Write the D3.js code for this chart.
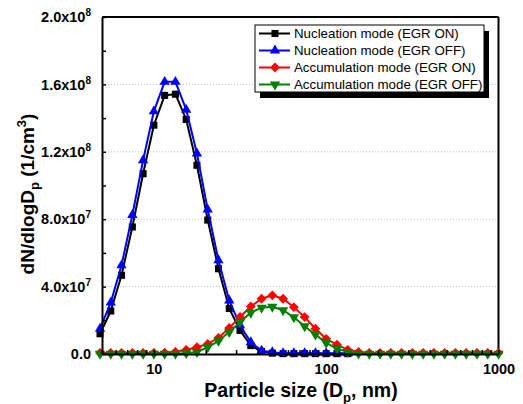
<!DOCTYPE html>
<html>
<head>
<meta charset="utf-8">
<script src="https://cdn.jsdelivr.net/npm/d3@7"></script>
<style>
  body { margin: 0; background: #fff; }
  text { font-family: Arial, "Liberation Sans", sans-serif; }
</style>
</head>
<body>
<div id="chart"></div>
<script>
// particle diameters (nm), SMPS bins
const sizes = [4.87, 5.62, 6.49, 7.50, 8.66, 10.0, 11.55, 13.34, 15.40, 17.78,
  20.54, 23.71, 27.38, 31.62, 36.52, 42.17, 48.70, 56.23, 64.94, 74.99,
  86.60, 100.0, 115.5, 133.4, 154.0, 177.8, 205.4, 237.1, 273.8, 316.2,
  365.2, 421.7, 487.0, 562.3, 649.4, 749.9, 866.0, 1000];

// dN/dlogDp in 1e6 /cm3
const nucOn = [12, 25.5, 46.7, 75.4, 107, 135.8, 153.5, 154.2, 139.2, 112,
  79.5, 50.6, 27, 14, 5, 1.5, 0.5, 0.2, 0.2, 0.2, 0.2, 0.2, 0.2, 0.2];
const nucOff = [15, 30.5, 52.6, 82.5, 115, 144, 161.5, 161.5, 145, 119,
  85.7, 55.6, 31.8, 17, 7, 2, 1, 0.5, 0.5, 0.5, 0.5, 0.5, 0.5, 0.5];
const accOn = [0.6, 0.6, 0.6, 0.6, 0.6, 0.6, 0.8, 1.3, 2.5, 4,
  6, 9.6, 15.5, 22, 28.2, 32.8, 34.8, 32.8, 27.8, 21.9,
  15, 9, 5.5, 2.5, 1.2, 0.6, 0.6, 0.6, 0.6, 0.6,
  0.6, 0.6, 0.6, 0.6, 0.6, 0.6, 0.6, 0.6];
const accOff = [0.1, 0.1, 0.1, 0.1, 0.1, 0.1, 0.1, 0.1, 0.5, 1.2,
  4, 7.8, 13, 19, 24.5, 27.5, 28, 26, 21.8, 16.5,
  11.5, 6.6, 3.2, 1.2, 0.2, 0.1, 0.1, 0.1, 0.1, 0.1,
  0.1, 0.1, 0.1, 0.1, 0.1, 0.1, 0.1, 0.1];

const seriesNames = ["Nucleation mode (EGR ON)", "Nucleation mode (EGR OFF)",
  "Accumulation mode (EGR ON)", "Accumulation mode (EGR OFF)"];
const seriesColors = ["#000000", "#0000ff", "#ff0000", "#008000"];

const yTicks = [0, 4e7, 8e7, 1.2e8, 1.6e8, 2e8];
const yTickMant = ["0.0", "4.0x10", "8.0x10", "1.2x10", "1.6x10", "2.0x10"];
const yTickExp = ["", "7", "7", "8", "8", "8"];
const xTicks = [10, 100, 1000];

const W = 523, H = 404;
const pl = 102, pr = 498.5, pt = 17, pb = 354;

const svg = d3.select("#chart").append("svg")
    .attr("width", W).attr("height", H);

const x = d3.scaleLog().domain([5, 1000]).range([pl, pr]);
const y = d3.scaleLinear().domain([0, 2e8]).range([pb, pt]);

// grid
svg.append("g").selectAll("line")
    .data(yTicks.slice(1, -1))
    .enter().append("line")
    .attr("x1", pl).attr("x2", pr)
    .attr("y1", d => y(d)).attr("y2", d => y(d))
    .attr("stroke", "#bdbdbd").attr("stroke-width", 1)
    .attr("stroke-dasharray", "1,2");

// frame top/right
svg.append("line").attr("x1", pl).attr("x2", pr).attr("y1", pt).attr("y2", pt)
    .attr("stroke", "#000").attr("stroke-width", 2);
svg.append("line").attr("x1", pr).attr("x2", pr).attr("y1", pt).attr("y2", pb)
    .attr("stroke", "#000").attr("stroke-width", 2);

// series
const series = [
  {vals: nucOn, sym: d3.symbolSquare, size: 50, rot: 0},
  {vals: nucOff, sym: d3.symbolTriangle, size: 46, rot: 0},
  {vals: accOn, sym: d3.symbolSquare, size: 48, rot: 45},
  {vals: accOff, sym: d3.symbolTriangle, size: 46, rot: 180}
];

const line = d3.line().x(d => x(d[0])).y(d => y(d[1]));

series.forEach((s, i) => {
  const pts = s.vals.map((v, j) => [sizes[j], v * 1e6]);
  const g = svg.append("g");
  g.append("path")
      .attr("d", line(pts))
      .attr("fill", "none")
      .attr("stroke", seriesColors[i])
      .attr("stroke-width", 2);
  g.selectAll("path.m")
      .data(pts)
      .enter().append("path")
      .attr("class", "m")
      .attr("d", d3.symbol().type(s.sym).size(s.size))
      .attr("transform", d => "translate(" + x(d[0]) + "," + y(d[1]) + ") rotate(" + s.rot + ")")
      .attr("fill", seriesColors[i]);
});

// x axis
const xAx = svg.append("g")
    .attr("transform", "translate(0," + pb + ")")
    .call(d3.axisBottom(x)
        .tickValues(x.ticks())
        .tickSizeInner(-4).tickSizeOuter(0).tickPadding(10)
        .tickFormat(d => xTicks.includes(d) ? String(d) : ""));
xAx.select(".domain").attr("stroke-width", 2);
xAx.selectAll(".tick line").attr("stroke-width", 1.5);
xAx.selectAll("text").attr("font-size", 14.5).attr("font-weight", "bold").attr("fill", "#000");

// y axis
const yMinor = d3.range(0, 2.01e8, 2e7);
const yAx = svg.append("g")
    .attr("transform", "translate(" + pl + ",0)")
    .call(d3.axisLeft(y)
        .tickValues(yMinor)
        .tickSizeInner(-4).tickSizeOuter(0).tickPadding(11)
        .tickFormat(() => ""));
yAx.select(".domain").attr("stroke-width", 2);
yAx.selectAll(".tick line").attr("stroke-width", 1.5);
yAx.selectAll(".tick text").remove();

const yLab = svg.append("g").selectAll("text")
    .data(yTicks)
    .enter().append("text")
    .attr("x", pl - 11)
    .attr("y", d => y(d))
    .attr("dy", "0.36em")
    .attr("text-anchor", "end")
    .attr("font-size", 14.5)
    .attr("font-weight", "bold");
yLab.each(function(d, i) {
  const t = d3.select(this);
  t.append("tspan").text(yTickMant[i]);
  if (yTickExp[i]) {
    t.append("tspan").attr("font-size", 10).attr("dy", -6).text(yTickExp[i]);
  }
});

// axis titles
const xt = svg.append("text")
    .attr("x", 301).attr("y", 397)
    .attr("text-anchor", "middle")
    .attr("font-size", 19.5).attr("font-weight", "bold");
xt.append("tspan").text("Particle size (D");
xt.append("tspan").attr("font-size", 13).attr("dy", 5).text("p");
xt.append("tspan").attr("dy", -5).text(", nm)");

const yt = svg.append("text")
    .attr("transform", "translate(33.5,194) rotate(-90)")
    .attr("text-anchor", "middle")
    .attr("font-size", 19).attr("font-weight", "bold");
yt.append("tspan").text("dN/dlogD");
yt.append("tspan").attr("font-size", 13).attr("dy", 5).text("p");
yt.append("tspan").attr("dy", -5).text(" (1/cm");
yt.append("tspan").attr("font-size", 13).attr("dy", -8).text("3");
yt.append("tspan").attr("dy", 8).text(")");

// legend
const lx = 255, ly = 25, lw = 229, lh = 67;
svg.append("rect").attr("x", lx + 5).attr("y", ly + 6).attr("width", lw).attr("height", lh)
    .attr("fill", "#000");
svg.append("rect").attr("x", lx).attr("y", ly).attr("width", lw).attr("height", lh)
    .attr("fill", "#fff").attr("stroke", "#000").attr("stroke-width", 1);

const leg = svg.append("g").selectAll("g")
    .data(seriesNames)
    .enter().append("g")
    .attr("transform", (d, i) => "translate(" + lx + "," + (ly + 8.5 + i * 17) + ")");
leg.append("line")
    .attr("x1", 4).attr("x2", 35).attr("y1", 0).attr("y2", 0)
    .attr("stroke", (d, i) => seriesColors[i]).attr("stroke-width", 2);
leg.append("path")
    .attr("d", (d, i) => d3.symbol().type(series[i].sym).size(series[i].size)())
    .attr("transform", (d, i) => "translate(20,0) rotate(" + series[i].rot + ")")
    .attr("fill", (d, i) => seriesColors[i]);
leg.append("text")
    .attr("x", 39).attr("dy", "0.36em")
    .attr("font-size", 13.3)
    .text(d => d);
</script>
</body>
</html>
